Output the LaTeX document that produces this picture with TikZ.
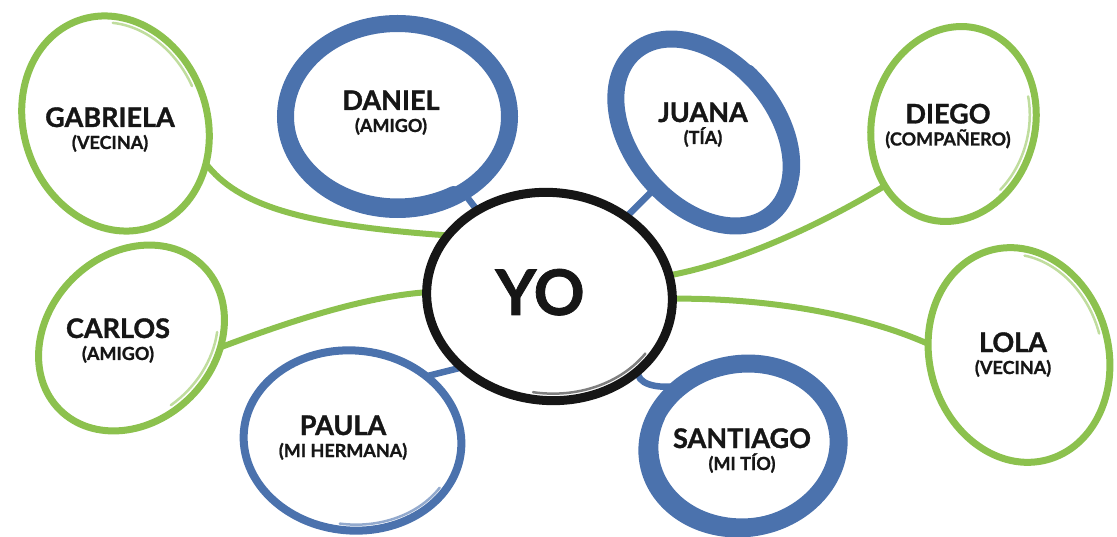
\documentclass[tikz,border=0pt]{standalone}
\usepackage{fontspec}
\setmainfont{Lato}[BoldFeatures={FakeBold=1.2}]
\usetikzlibrary{shapes.geometric,backgrounds}
\definecolor{leaf}{RGB}{140,193,78}
\definecolor{ink}{RGB}{75,114,173}
\definecolor{coal}{RGB}{22,22,22}
\newcommand\personlabel[2]{\vbox{\baselineskip=22pt\lineskiplimit=-30pt\halign{\hfil##\hfil\cr\fontsize{27}{27}\selectfont #1\cr\fontsize{18}{18}\selectfont (#2)\cr}}}
\tikzset{
  greenring/.style={ellipse, draw=leaf, line width=7pt, inner sep=0pt, outer sep=0pt},
  bluering/.style={ellipse, draw=ink, inner sep=0pt, outer sep=0pt},
  lbl/.style={anchor=base, inner sep=0pt, font=\bfseries, text=coal},
  link/.style={draw=leaf, line width=6pt, line cap=round},
  stub/.style={draw=ink, line width=6.5pt},
  thick brush/.style={draw=ink, line width=#1, line cap=round},
  hlg/.style={draw=leaf!55, line width=2.5pt, line cap=round},
  hlb/.style={draw=ink!60, line width=2.5pt, line cap=round},
  hlk/.style={draw=coal!55, line width=2.5pt, line cap=round}
}
\begin{document}
\begin{tikzpicture}[x=1pt,y=1pt]
\useasboundingbox (0,0) rectangle (1117,-537);

% rings
\node[ellipse, draw=coal, line width=9pt, inner sep=0pt, outer sep=0pt, minimum width=246pt, minimum height=208pt, rotate=-5] (yo) at (549.5,-296.5) {};
\node[greenring, minimum width=183pt, minimum height=219pt, rotate=20] (gab) at (115.5,-123.5) {};
\node[bluering, line width=17pt, minimum width=224pt, minimum height=186pt] (dan) at (397.5,-116.5) {};
\node[bluering, line width=17pt, minimum width=144pt, minimum height=212pt, rotate=40] (jua) at (703.5,-132.5) {};
\node[greenring, minimum width=163pt, minimum height=197pt, rotate=-15] (die) at (953.5,-124) {};
\node[greenring, minimum width=167pt, minimum height=203pt, rotate=-45] (car) at (131.5,-338) {};
\node[greenring, minimum width=179pt, minimum height=217pt, rotate=15] (lol) at (1019,-355) {};
\node[bluering, line width=8pt, minimum width=218pt, minimum height=180pt, rotate=-5] (pau) at (352.5,-440.5) {};
\node[bluering, line width=18pt, minimum width=192pt, minimum height=164pt, rotate=10] (san) at (743,-446) {};

% uneven brush thickness
\begin{scope}[shift={(397.5,-112.5)}]
  \draw[thick brush=14pt] (195:112pt and 93pt) arc[start angle=195, end angle=300, x radius=112pt, y radius=93pt];
\end{scope}
\begin{scope}[shift={(747,-443)}, rotate=10]
  \draw[thick brush=14pt] (150:96pt and 82pt) arc[start angle=150, end angle=290, x radius=96pt, y radius=82pt];
\end{scope}
\begin{scope}[shift={(706.5,-130.5)}, rotate=40]
  \draw[thick brush=12pt] (-60:72pt and 106pt) arc[start angle=-60, end angle=10, x radius=72pt, y radius=106pt];
\end{scope}

% dry-brush highlights
\begin{scope}[shift={(115.5,-123.5)}, rotate=20]
  \draw[hlg] (5:85pt and 103pt) arc[start angle=5, end angle=68, x radius=85pt, y radius=103pt];
\end{scope}
\begin{scope}[shift={(131.5,-338)}, rotate=-45]
  \draw[hlg] (-12:77pt and 95pt) arc[start angle=-12, end angle=43, x radius=77pt, y radius=95pt];
\end{scope}
\begin{scope}[shift={(953.5,-124)}, rotate=-15]
  \draw[hlg] (-34:75pt and 92pt) arc[start angle=-34, end angle=30, x radius=75pt, y radius=92pt];
\end{scope}
\begin{scope}[shift={(1019,-355)}, rotate=15]
  \draw[hlg] (0:83pt and 102pt) arc[start angle=0, end angle=68, x radius=83pt, y radius=102pt];
\end{scope}
\begin{scope}[shift={(352.5,-440.5)}, rotate=-5]
  \draw[hlb] (-93:103pt and 84pt) arc[start angle=-93, end angle=-28, x radius=103pt, y radius=84pt];
\end{scope}
\begin{scope}[shift={(549.5,-296.5)}, rotate=-5]
  \draw[hlk] (-94:116pt and 97pt) arc[start angle=-94, end angle=-30, x radius=116pt, y radius=97pt];
\end{scope}

% connectors
\begin{scope}[on background layer]
  \draw[link] (gab.-44) .. controls (238,-205) and (300,-225) .. (yo.154);
  \draw[link] (car.39) .. controls (280,-325) and (360,-297) .. (yo.183);
  \draw[link] (die.237) .. controls (820,-225) and (740,-262) .. (yo.15);
  \draw[link] (lol.158) .. controls (870,-318) and (780,-298) .. (yo.4);
  \draw[stub] (dan.-49) -- (yo.135);
  \draw[stub] (jua.189) -- (yo.51);
  \draw[stub] (pau.46) -- (yo.224);
  \draw[stub] (yo.-35) .. controls (636,-383) and (655,-390) .. (san.125);
\end{scope}

% labels
\node[lbl, font=\bfseries\fontsize{63}{63}\selectfont] (yot) at (540,-315) {YO};
\node[lbl] (gabt) at (110,-149) {\personlabel{GABRIELA}{VECINA}};
\node[lbl] (dant) at (391,-132) {\personlabel{DANIEL}{AMIGO}};
\node[lbl] (juat) at (703,-144) {\personlabel{JUANA}{TÍA}};
\node[lbl] (diet) at (948,-145.5) {\personlabel{DIEGO}{COMPAÑERO}};
\node[lbl] (cart) at (118,-360) {\personlabel{CARLOS}{AMIGO}};
\node[lbl] (lolt) at (1013,-374) {\personlabel{LOLA}{VECINA}};
\node[lbl] (paut) at (343,-457) {\personlabel{PAULA}{MI HERMANA}};
\node[lbl] (sant) at (742,-470) {\personlabel{SANTIAGO}{MI TÍO}};
\end{tikzpicture}
\end{document}
